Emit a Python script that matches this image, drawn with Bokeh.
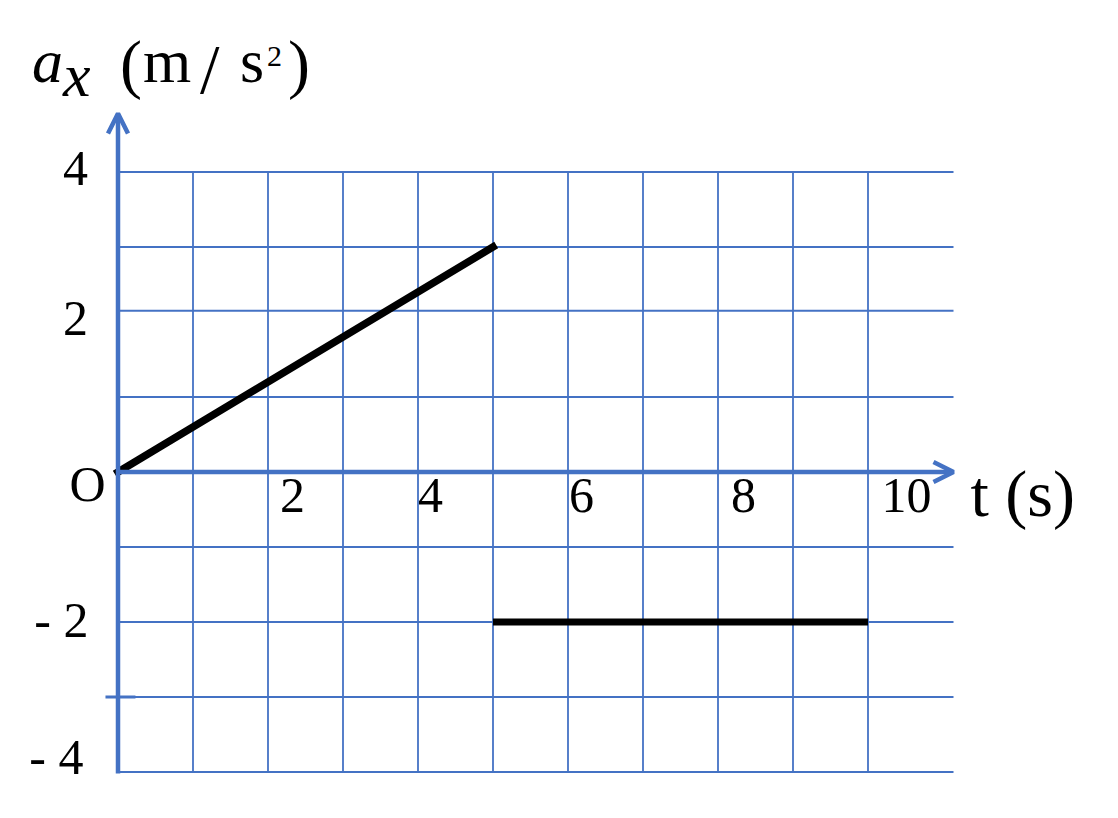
from bokeh.plotting import figure
from bokeh.models import Range1d, ColumnDataSource, Arrow, OpenHead
from bokeh.core.properties import value
from bokeh.embed import file_html
from bokeh.resources import INLINE

# ---- data ----
t_ramp = [0, 5]
a_ramp = [0, 3]
t_flat = [5, 10]
a_flat = [-2, -2]

grid_x = [1, 2, 3, 4, 5, 6, 7, 8, 9, 10]
grid_y = [4, 3, 2.15, 1, -1, -2, -3, -4]

x_tick_vals = [2, 4, 6, 8, 10]
x_tick_labels = ["2", "4", "6", "8", "10"]
y_tick_vals = [4, 2, -2, -4]
y_tick_labels = ["4", "2", "- 2", "- 4"]

# ---- layout (pixels) ----
x_label_dx = [24.5, 12.5, 13.5, 25.5, 38.5]
y_label_dx = [-30, -30, -29.5, -34.5]
y_label_dy = [-4, -4, -2, -15]

BLUE = "#4472C4"
FONT = value("Liberation Serif")

PX = 75.0          # pixels per unit
X0, Y0 = 117.5, 471.5
W, H = 1100, 800
x_end_axis = 11.14
y_end_axis = 4.78

p = figure(width=W, height=H,
           x_range=Range1d(-X0 / PX, (W - X0) / PX),
           y_range=Range1d(-(H - Y0) / PX, Y0 / PX),
           x_axis_type=None, y_axis_type=None,
           toolbar_location=None, output_backend="svg",
           min_border=0, outline_line_color=None)
p.background_fill_color = "white"
p.border_fill_color = "white"

# grid
p.segment(x0=grid_x, y0=[-4] * len(grid_x), x1=grid_x, y1=[4] * len(grid_x),
          line_color=BLUE, line_width=1.8)
p.segment(x0=[0] * len(grid_y), y0=grid_y, x1=[x_end_axis] * len(grid_y), y1=grid_y,
          line_color=BLUE, line_width=1.8)

# small tick on y axis
p.segment(x0=[-0.167], y0=[-3], x1=[0.233], y1=[-3], line_color=BLUE, line_width=3)

# axes with arrows
p.add_layout(Arrow(x_start=0, y_start=0, x_end=x_end_axis, y_end=0,
                   line_color=BLUE, line_width=4.5,
                   end=OpenHead(size=20, line_color=BLUE, line_width=4.5)))
p.add_layout(Arrow(x_start=0, y_start=-4.02, x_end=0, y_end=y_end_axis,
                   line_color=BLUE, line_width=4.5,
                   end=OpenHead(size=20, line_color=BLUE, line_width=4.5)))

# data lines
p.line(t_ramp, a_ramp, line_color="black", line_width=7.5, line_cap="square")
p.line(t_flat, a_flat, line_color="black", line_width=7)

# tick labels
xs = ColumnDataSource(dict(x=x_tick_vals, y=[0] * len(x_tick_vals),
                           text=x_tick_labels, dx=x_label_dx))
p.text(x="x", y="y", text="text", source=xs, x_offset="dx", y_offset=23,
       text_font=FONT, text_font_size="50px", text_align="center",
       text_baseline="alphabetic", text_color="black")

ys = ColumnDataSource(dict(x=[0] * len(y_tick_vals), y=y_tick_vals,
                           text=y_tick_labels, dx=y_label_dx, dy=y_label_dy))
p.text(x="x", y="y", text="text", source=ys, x_offset="dx", y_offset="dy",
       text_font=FONT, text_font_size="50px", text_align="right",
       text_baseline="alphabetic", text_color="black")

p.text(x=[0], y=[0], text=["O"], x_offset=-30.5, y_offset=12,
       text_font=FONT, text_font_size="50px", text_align="center",
       text_baseline="alphabetic", text_color="black")

# axis titles
p.text(x=[x_end_axis], y=[0], text=["t (s)"], x_offset=17, y_offset=21,
       text_font=FONT, text_font_size="66px", text_align="left",
       text_baseline="alphabetic", text_color="black")

pieces = [
    ("a", "italic", "62px", -86, -53),
    ("x", "italic", "62px", -55, -39),
    ("(", "normal", "66px", 2, -50),
    ("m", "normal", "62px", 25, -53),
    ("/", "normal", "70px", 82, -44),
    ("s", "normal", "62px", 122, -53),
    ("2", "normal", "30px", 149, -57),
    (")", "normal", "66px", 170, -50),
]
for txt, style, size, dx, dy in pieces:
    p.text(x=[0], y=[y_end_axis], text=[txt], x_offset=dx, y_offset=dy,
           text_font=FONT, text_font_style=style, text_font_size=size,
           text_align="left", text_baseline="alphabetic", text_color="black")

open("out.html", "w").write(file_html(p, INLINE))
